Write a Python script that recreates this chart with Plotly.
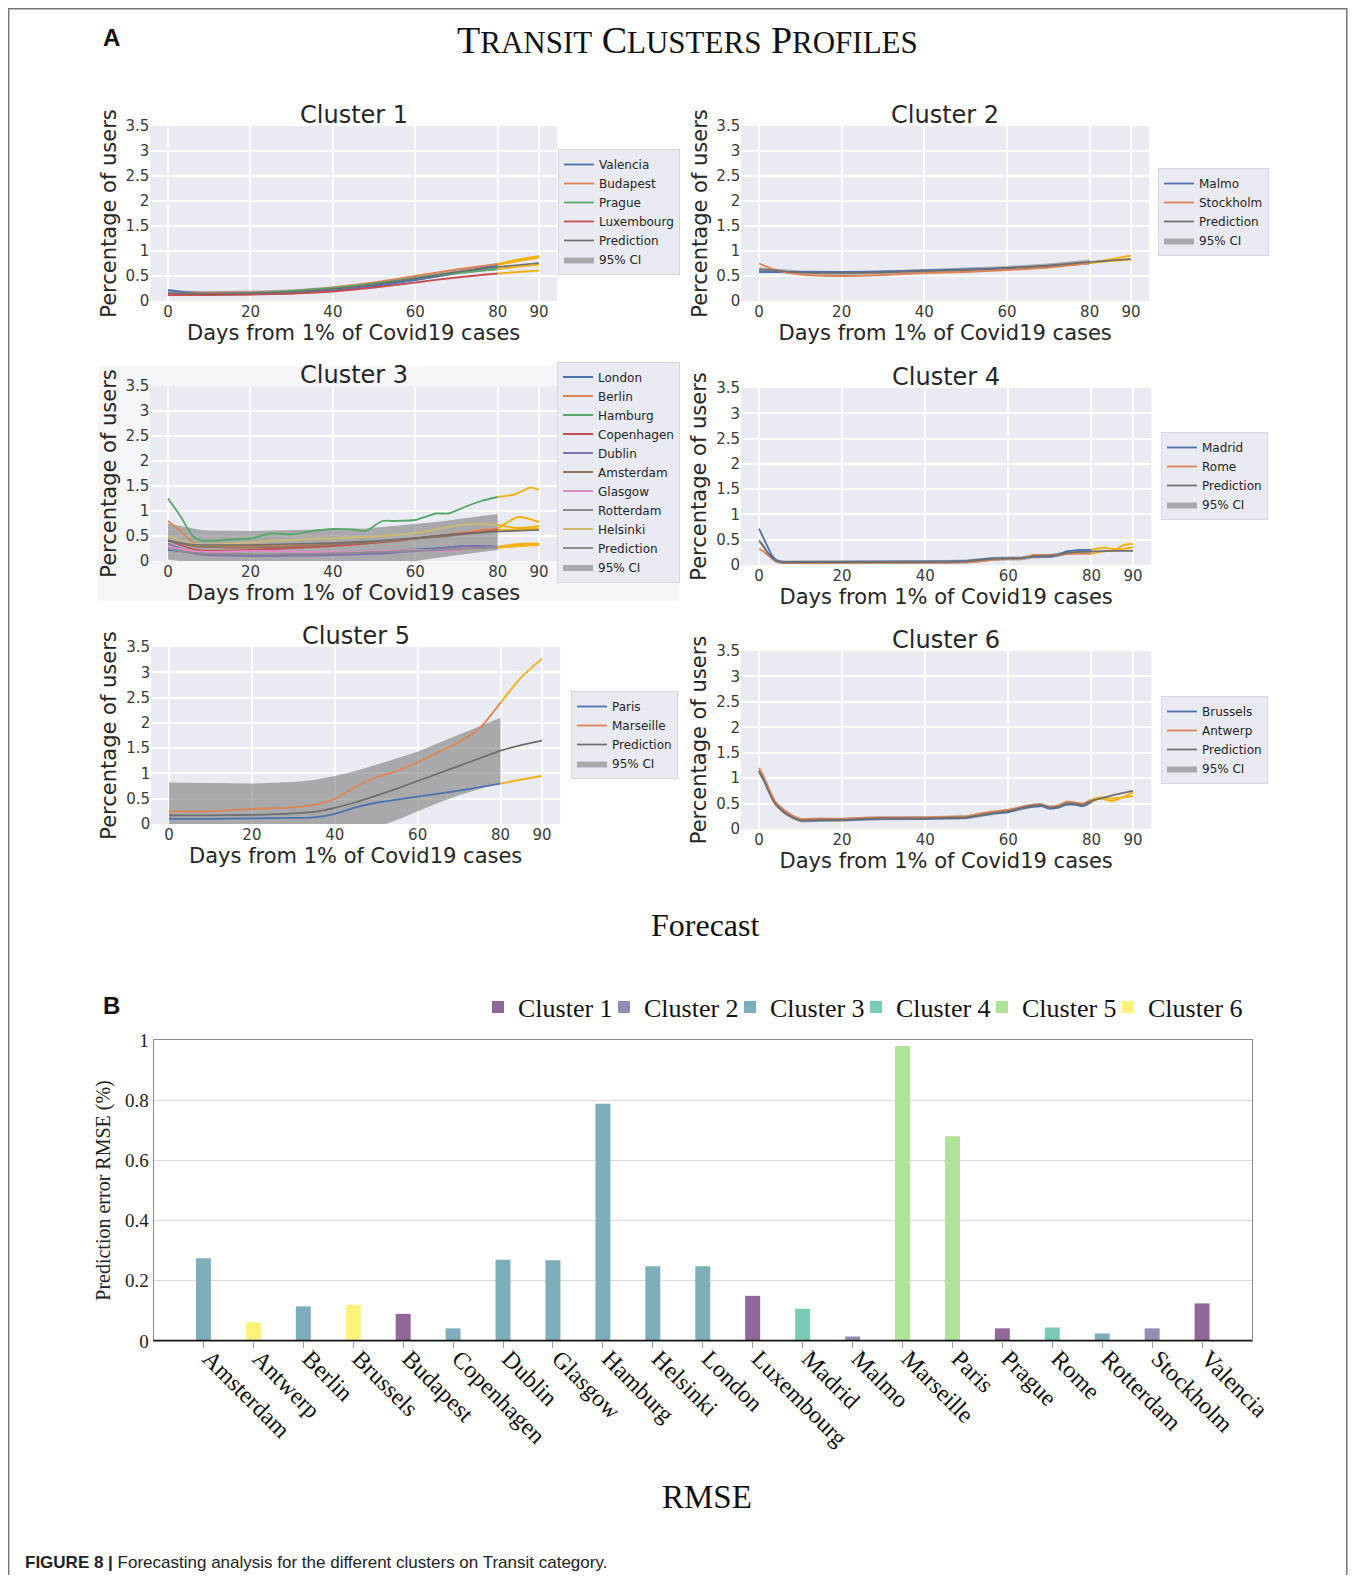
import plotly.graph_objects as go

PAGE_W, PAGE_H = 1356, 1583
OFF = 8  # default body margin of the page
W, H = PAGE_W - 2 * OFF, PAGE_H - 2 * OFF

# ======================= PANEL A DATA =======================
# ---- Cluster 1
c1_days = [0, 5, 10, 20, 30, 40, 50, 60, 70, 80]
c1_valencia = [0.22, 0.17, 0.15, 0.15, 0.16, 0.21, 0.30, 0.42, 0.56, 0.72]
c1_budapest = [0.15, 0.15, 0.16, 0.17, 0.20, 0.27, 0.37, 0.50, 0.63, 0.74]
c1_prague = [0.12, 0.13, 0.14, 0.16, 0.20, 0.26, 0.35, 0.46, 0.56, 0.64]
c1_luxembourg = [0.12, 0.12, 0.12, 0.13, 0.15, 0.19, 0.27, 0.37, 0.47, 0.55]
c1_fc_days = [80, 85, 90]
c1_valencia_fc = [0.72, 0.80, 0.87]
c1_budapest_fc = [0.74, 0.83, 0.90]
c1_prague_fc = [0.64, 0.69, 0.73]
c1_luxembourg_fc = [0.55, 0.58, 0.61]
c1_pred_days = [0, 5, 10, 20, 30, 40, 50, 60, 70, 80, 85, 90]
c1_pred = [0.16, 0.15, 0.15, 0.16, 0.18, 0.24, 0.33, 0.45, 0.58, 0.68, 0.72, 0.76]
c1_ci_low = [0.11, 0.10, 0.10, 0.11, 0.13, 0.19, 0.28, 0.40, 0.53, 0.62]
c1_ci_high = [0.21, 0.20, 0.20, 0.21, 0.23, 0.29, 0.38, 0.50, 0.63, 0.74]

# ---- Cluster 2
c2_days = [0, 3, 5, 10, 20, 30, 40, 50, 60, 70, 80]
c2_malmo = [0.58, 0.58, 0.58, 0.58, 0.58, 0.59, 0.61, 0.63, 0.66, 0.70, 0.76]
c2_stockholm = [0.75, 0.65, 0.60, 0.53, 0.50, 0.52, 0.56, 0.58, 0.62, 0.67, 0.76]
c2_fc_days = [80, 85, 90]
c2_malmo_fc = [0.76, 0.80, 0.83]
c2_stockholm_fc = [0.76, 0.83, 0.91]
c2_pred_days = [0, 3, 5, 10, 20, 30, 40, 50, 60, 70, 80, 85, 90]
c2_pred = [0.63, 0.62, 0.60, 0.57, 0.56, 0.57, 0.60, 0.62, 0.66, 0.71, 0.78, 0.81, 0.84]
c2_ci_low = [0.59, 0.58, 0.56, 0.53, 0.52, 0.53, 0.56, 0.58, 0.62, 0.67, 0.73]
c2_ci_high = [0.67, 0.66, 0.64, 0.61, 0.60, 0.61, 0.64, 0.66, 0.70, 0.75, 0.83]

# ---- Cluster 3
c3_days = [0, 3, 6, 8, 10, 15, 20, 25, 30, 35, 40, 45, 48, 52, 55, 60, 65, 68, 72, 76, 80]
c3_london = [0.22, 0.20, 0.16, 0.15, 0.14, 0.13, 0.12, 0.12, 0.12, 0.12, 0.13, 0.15, 0.16, 0.18, 0.20, 0.23, 0.25, 0.27, 0.30, 0.29, 0.28]
c3_berlin = [0.80, 0.60, 0.38, 0.32, 0.30, 0.30, 0.30, 0.30, 0.31, 0.33, 0.35, 0.37, 0.38, 0.40, 0.42, 0.46, 0.50, 0.53, 0.57, 0.62, 0.65]
c3_hamburg = [1.25, 0.90, 0.50, 0.41, 0.40, 0.43, 0.45, 0.55, 0.53, 0.60, 0.64, 0.63, 0.60, 0.80, 0.80, 0.82, 0.95, 0.95, 1.08, 1.20, 1.28]
c3_copenhagen = [0.42, 0.32, 0.24, 0.21, 0.20, 0.21, 0.22, 0.24, 0.26, 0.28, 0.30, 0.33, 0.35, 0.38, 0.40, 0.45, 0.50, 0.52, 0.55, 0.58, 0.62]
c3_dublin = [0.35, 0.25, 0.16, 0.13, 0.12, 0.11, 0.10, 0.10, 0.11, 0.11, 0.12, 0.13, 0.14, 0.15, 0.17, 0.20, 0.24, 0.27, 0.30, 0.30, 0.28]
c3_amsterdam = [0.42, 0.35, 0.30, 0.28, 0.28, 0.27, 0.27, 0.28, 0.29, 0.31, 0.33, 0.35, 0.37, 0.39, 0.41, 0.45, 0.48, 0.50, 0.54, 0.57, 0.60]
c3_glasgow = [0.30, 0.24, 0.20, 0.19, 0.18, 0.19, 0.20, 0.20, 0.19, 0.18, 0.18, 0.18, 0.19, 0.20, 0.21, 0.22, 0.21, 0.19, 0.24, 0.26, 0.27]
c3_rotterdam = [0.25, 0.20, 0.16, 0.15, 0.14, 0.14, 0.13, 0.13, 0.14, 0.14, 0.15, 0.16, 0.17, 0.18, 0.19, 0.20, 0.22, 0.23, 0.25, 0.26, 0.27]
c3_helsinki = [0.50, 0.42, 0.35, 0.33, 0.33, 0.35, 0.37, 0.40, 0.42, 0.44, 0.45, 0.47, 0.48, 0.50, 0.52, 0.56, 0.63, 0.68, 0.73, 0.74, 0.72]
c3_fc_days = [80, 85, 90]
c3_hamburg_fc_days = [80, 84, 88, 90]
c3_london_fc = [0.28, 0.32, 0.33]
c3_berlin_fc = [0.65, 0.88, 0.78]
c3_hamburg_fc = [1.28, 1.33, 1.47, 1.42]
c3_copenhagen_fc = [0.62, 0.63, 0.65]
c3_dublin_fc = [0.28, 0.34, 0.35]
c3_amsterdam_fc = [0.60, 0.62, 0.63]
c3_glasgow_fc = [0.27, 0.30, 0.33]
c3_rotterdam_fc = [0.27, 0.30, 0.32]
c3_helsinki_fc = [0.72, 0.66, 0.70]
c3_pred_days = [0, 3, 6, 8, 10, 15, 20, 25, 30, 35, 40, 45, 48, 52, 55, 60, 65, 68, 72, 76, 80, 90]
c3_pred = [0.40, 0.36, 0.33, 0.32, 0.32, 0.32, 0.32, 0.33, 0.34, 0.35, 0.36, 0.38, 0.39, 0.41, 0.43, 0.46, 0.50, 0.52, 0.55, 0.57, 0.59, 0.62]
c3_ci_low = [0.03, 0.00, -0.03, -0.04, -0.05, -0.05, -0.05, -0.05, -0.05, -0.05, -0.05, -0.05, -0.05, -0.04, -0.03, 0.00, 0.06, 0.10, 0.14, 0.18, 0.22]
c3_ci_high = [0.75, 0.70, 0.64, 0.62, 0.61, 0.60, 0.60, 0.61, 0.62, 0.62, 0.63, 0.64, 0.65, 0.68, 0.70, 0.74, 0.78, 0.81, 0.86, 0.90, 0.94]

# ---- Cluster 4
c4_days = [0, 1, 2, 3, 4, 5, 6, 8, 10, 20, 30, 40, 45, 50, 53, 56, 60, 63, 66, 70, 72, 74, 77, 80]
c4_madrid = [0.72, 0.55, 0.35, 0.20, 0.10, 0.07, 0.06, 0.06, 0.06, 0.06, 0.06, 0.07, 0.07, 0.08, 0.10, 0.13, 0.13, 0.14, 0.17, 0.16, 0.20, 0.27, 0.30, 0.30]
c4_rome = [0.32, 0.27, 0.20, 0.14, 0.08, 0.05, 0.04, 0.04, 0.04, 0.04, 0.05, 0.05, 0.05, 0.05, 0.07, 0.10, 0.12, 0.13, 0.20, 0.20, 0.20, 0.22, 0.22, 0.22]
c4_fc_days = [80, 83, 86, 88, 90]
c4_madrid_fc = [0.30, 0.34, 0.32, 0.40, 0.42]
c4_rome_fc = [0.22, 0.27, 0.30, 0.32, 0.35]
c4_pred_days = [0, 1, 2, 3, 4, 5, 6, 8, 10, 20, 30, 40, 45, 50, 53, 56, 60, 63, 66, 70, 72, 74, 77, 80, 85, 90]
c4_pred = [0.48, 0.38, 0.25, 0.15, 0.09, 0.06, 0.05, 0.05, 0.05, 0.05, 0.05, 0.06, 0.06, 0.07, 0.09, 0.12, 0.13, 0.13, 0.17, 0.18, 0.20, 0.24, 0.26, 0.27, 0.28, 0.28]
c4_ci_low = [0.44, 0.34, 0.21, 0.11, 0.05, 0.02, 0.01, 0.01, 0.01, 0.01, 0.01, 0.02, 0.02, 0.03, 0.05, 0.08, 0.09, 0.09, 0.13, 0.14, 0.16, 0.20, 0.22, 0.23]
c4_ci_high = [0.52, 0.42, 0.29, 0.19, 0.13, 0.10, 0.09, 0.09, 0.09, 0.09, 0.09, 0.10, 0.10, 0.11, 0.13, 0.16, 0.17, 0.17, 0.21, 0.22, 0.24, 0.28, 0.30, 0.31]

# ---- Cluster 5
c5_days = [0, 10, 20, 30, 35, 40, 45, 50, 55, 60, 65, 70, 75, 80]
c5_paris = [0.10, 0.10, 0.11, 0.12, 0.13, 0.20, 0.33, 0.42, 0.48, 0.54, 0.60, 0.66, 0.73, 0.80]
c5_marseille = [0.25, 0.25, 0.30, 0.33, 0.38, 0.50, 0.73, 0.92, 1.05, 1.22, 1.42, 1.62, 1.90, 2.40]
c5_fc_days = [80, 85, 90]
c5_paris_fc = [0.80, 0.88, 0.95]
c5_marseille_fc = [2.40, 2.90, 3.27]
c5_pred_days = [0, 10, 20, 30, 35, 40, 45, 50, 55, 60, 65, 70, 75, 80, 85, 90]
c5_pred = [0.17, 0.17, 0.18, 0.21, 0.24, 0.32, 0.43, 0.56, 0.70, 0.85, 1.00, 1.15, 1.30, 1.45, 1.56, 1.65]
c5_ci_low = [-0.45, -0.47, -0.45, -0.40, -0.37, -0.30, -0.20, -0.07, 0.08, 0.25, 0.42, 0.57, 0.70, 0.82]
c5_ci_high = [0.82, 0.81, 0.80, 0.83, 0.87, 0.95, 1.05, 1.17, 1.30, 1.43, 1.60, 1.77, 1.93, 2.10]

# ---- Cluster 6
c6_days = [0, 1, 2, 3, 4, 6, 8, 10, 15, 20, 25, 30, 35, 40, 45, 50, 53, 56, 60, 63, 66, 68, 70, 72, 74, 76, 78, 80]
c6_brussels = [1.15, 1.00, 0.82, 0.65, 0.50, 0.35, 0.24, 0.17, 0.17, 0.17, 0.19, 0.20, 0.20, 0.20, 0.21, 0.22, 0.26, 0.30, 0.33, 0.40, 0.44, 0.45, 0.40, 0.42, 0.48, 0.48, 0.45, 0.53]
c6_antwerp = [1.20, 1.05, 0.87, 0.68, 0.53, 0.38, 0.27, 0.20, 0.21, 0.20, 0.22, 0.23, 0.23, 0.23, 0.24, 0.25, 0.30, 0.34, 0.38, 0.43, 0.48, 0.48, 0.43, 0.46, 0.54, 0.52, 0.50, 0.58]
c6_fc_days = [80, 82, 85, 90]
c6_brussels_fc = [0.53, 0.60, 0.55, 0.72]
c6_antwerp_fc = [0.58, 0.62, 0.60, 0.65]
c6_pred_days = [0, 1, 2, 3, 4, 6, 8, 10, 15, 20, 25, 30, 35, 40, 45, 50, 53, 56, 60, 63, 66, 68, 70, 72, 74, 76, 78, 80, 85, 90]
c6_pred = [1.12, 0.98, 0.80, 0.62, 0.48, 0.33, 0.23, 0.17, 0.18, 0.18, 0.20, 0.21, 0.21, 0.21, 0.22, 0.23, 0.27, 0.31, 0.35, 0.41, 0.46, 0.47, 0.42, 0.44, 0.50, 0.50, 0.47, 0.55, 0.66, 0.75]
c6_ci_low = [1.08, 0.94, 0.76, 0.58, 0.44, 0.29, 0.19, 0.13, 0.14, 0.14, 0.16, 0.17, 0.17, 0.17, 0.18, 0.19, 0.23, 0.27, 0.31, 0.37, 0.42, 0.43, 0.38, 0.40, 0.46, 0.46, 0.43, 0.51]
c6_ci_high = [1.16, 1.02, 0.84, 0.66, 0.52, 0.37, 0.27, 0.21, 0.22, 0.22, 0.24, 0.25, 0.25, 0.25, 0.26, 0.27, 0.31, 0.35, 0.39, 0.45, 0.50, 0.51, 0.46, 0.48, 0.54, 0.54, 0.51, 0.59]

x_tick_vals = [0, 20, 40, 60, 80, 90]
y_tick_vals = [0, 0.5, 1, 1.5, 2, 2.5, 3, 3.5]
y_tick_text = ["0", "0.5", "1", "1.5", "2", "2.5", "3", "3.5"]

# ======================= PANEL B DATA =======================
rmse_cities = ["Amsterdam", "Antwerp", "Berlin", "Brussels", "Budapest", "Copenhagen", "Dublin",
               "Glasgow", "Hamburg", "Helsinki", "London", "Luxembourg", "Madrid", "Malmo",
               "Marseille", "Paris", "Prague", "Rome", "Rotterdam", "Stockholm", "Valencia"]
rmse_values = [0.275, 0.062, 0.115, 0.120, 0.090, 0.042, 0.270, 0.268, 0.788, 0.248, 0.248,
               0.150, 0.107, 0.015, 0.980, 0.680, 0.042, 0.045, 0.025, 0.042, 0.125]
rmse_cluster = [3, 6, 3, 6, 1, 3, 3, 3, 3, 3, 3, 1, 4, 2, 5, 5, 1, 4, 3, 2, 1]
bar_tick_vals = [0, 0.2, 0.4, 0.6, 0.8, 1]
bar_tick_text = ["0", "0.2", "0.4", "0.6", "0.8", "1"]

# ======================= STYLE =======================
DEEP = ["#4C72B0", "#DD8452", "#55A868", "#C44E52", "#8172B3", "#937860", "#DA8BC3", "#8C8C8C", "#CCB974"]
FC_COLOR = "#F2B215"
PRED_COLOR = "#6E6E6E"
CI_FILL = "rgba(125,125,125,0.6)"
BAR_COLORS = {1: "rgb(143,103,152)", 2: "rgb(141,143,183)", 3: "rgb(127,174,187)",
              4: "rgb(122,203,181)", 5: "rgb(175,227,151)", 6: "rgb(254,241,124)"}

# page-pixel geometry: (x of day 0, x of day 90, y of value 0, y of value 3.5)
panel_geom = {1: (168, 539, 301, 126), 2: (759, 1131, 301, 126),
              3: (168, 539, 561, 386), 4: (759, 1133, 565, 388),
              5: (169, 542, 824, 647), 6: (759, 1133, 829, 651)}
legend_pos = {1: (558, 212), 2: (1158, 212), 3: (557, 472),
              4: (1161, 476), 5: (571, 735), 6: (1161, 740)}


def px(x):
    return (x - OFF) / W


def py(y):
    return 1 - (y - OFF) / H


panels = {
    1: dict(days=c1_days, fc_days=c1_fc_days,
            cities=[("Valencia", c1_valencia, c1_valencia_fc), ("Budapest", c1_budapest, c1_budapest_fc),
                    ("Prague", c1_prague, c1_prague_fc), ("Luxembourg", c1_luxembourg, c1_luxembourg_fc)],
            pred_days=c1_pred_days, pred=c1_pred, lo=c1_ci_low, hi=c1_ci_high, shape="spline"),
    2: dict(days=c2_days, fc_days=c2_fc_days,
            cities=[("Malmo", c2_malmo, c2_malmo_fc), ("Stockholm", c2_stockholm, c2_stockholm_fc)],
            pred_days=c2_pred_days, pred=c2_pred, lo=c2_ci_low, hi=c2_ci_high, shape="spline"),
    3: dict(days=c3_days, fc_days=c3_fc_days,
            cities=[("London", c3_london, c3_london_fc), ("Berlin", c3_berlin, c3_berlin_fc),
                    ("Hamburg", c3_hamburg, c3_hamburg_fc), ("Copenhagen", c3_copenhagen, c3_copenhagen_fc),
                    ("Dublin", c3_dublin, c3_dublin_fc), ("Amsterdam", c3_amsterdam, c3_amsterdam_fc),
                    ("Glasgow", c3_glasgow, c3_glasgow_fc), ("Rotterdam", c3_rotterdam, c3_rotterdam_fc),
                    ("Helsinki", c3_helsinki, c3_helsinki_fc)],
            pred_days=c3_pred_days, pred=c3_pred, lo=c3_ci_low, hi=c3_ci_high, shape="spline"),
    4: dict(days=c4_days, fc_days=c4_fc_days,
            cities=[("Madrid", c4_madrid, c4_madrid_fc), ("Rome", c4_rome, c4_rome_fc)],
            pred_days=c4_pred_days, pred=c4_pred, lo=c4_ci_low, hi=c4_ci_high, shape="linear"),
    5: dict(days=c5_days, fc_days=c5_fc_days,
            cities=[("Paris", c5_paris, c5_paris_fc), ("Marseille", c5_marseille, c5_marseille_fc)],
            pred_days=c5_pred_days, pred=c5_pred, lo=c5_ci_low, hi=c5_ci_high, shape="spline"),
    6: dict(days=c6_days, fc_days=c6_fc_days,
            cities=[("Brussels", c6_brussels, c6_brussels_fc), ("Antwerp", c6_antwerp, c6_antwerp_fc)],
            pred_days=c6_pred_days, pred=c6_pred, lo=c6_ci_low, hi=c6_ci_high, shape="spline"),
}

fig = go.Figure()
layout = dict(width=W, height=H, margin=dict(l=0, r=0, t=0, b=0, pad=0, autoexpand=False),
              paper_bgcolor="white", plot_bgcolor="rgba(0,0,0,0)",
              showlegend=True, barmode="overlay", hovermode=False)
shapes = []
annotations = []

# light box behind cluster 3 panel
shapes.append(dict(type="rect", xref="paper", yref="paper", x0=px(98), x1=px(679), y0=py(601), y1=py(366),
                   fillcolor="#F6F6F8", line=dict(width=0), layer="below"))

SANS = "DejaVu Sans"
SERIF = "Liberation Serif"
XLO, XHI = -4.3, 94.4

for i, p in panels.items():
    sfx = "" if i == 1 else str(i)
    xa, ya = "x" + sfx, "y" + sfx
    leg = "legend" if i == 1 else "legend%d" % i
    x0, x90, y0, y35 = panel_geom[i]
    ppd = (x90 - x0) / 90.0
    dom_x = [px(x0 + XLO * ppd), px(x0 + XHI * ppd)]
    dom_y = [py(y0), py(y35)]

    layout["xaxis" + sfx] = dict(domain=dom_x, range=[XLO, XHI], anchor=ya, tickvals=x_tick_vals,
                                 ticktext=[str(v) for v in x_tick_vals], showgrid=True, gridcolor="white",
                                 gridwidth=1.5, zeroline=False, showline=False, ticks="", automargin=False,
                                 tickfont=dict(family=SANS, size=15, color="#3a3a3a"),
                                 title=dict(text="Days from 1% of Covid19 cases", standoff=1,
                                            font=dict(family=SANS, size=21, color="#262626")))
    layout["yaxis" + sfx] = dict(domain=dom_y, range=[0, 3.5], anchor=xa, tickvals=y_tick_vals,
                                 ticktext=y_tick_text, showgrid=True, gridcolor="white", gridwidth=1.5,
                                 zeroline=False, showline=False, ticks="", automargin=False,
                                 tickfont=dict(family=SANS, size=15, color="#3a3a3a"),
                                 title=dict(text="Percentage of users", standoff=3,
                                            font=dict(family=SANS, size=21, color="#262626")))
    shapes.append(dict(type="rect", xref=xa + " domain", yref=ya + " domain", x0=0, x1=1, y0=0, y1=1,
                       fillcolor="#EAEAF2", line=dict(width=0), layer="below"))
    annotations.append(dict(text="Cluster %d" % i, x=(dom_x[0] + dom_x[1]) / 2, y=dom_y[1],
                            xref="paper", yref="paper", xanchor="center", yanchor="bottom", yshift=-5,
                            showarrow=False, font=dict(family=SANS, size=24, color="#262626")))

    n = len(p["cities"])
    fig.add_trace(go.Scatter(x=p["days"] + p["days"][::-1], y=p["hi"] + p["lo"][::-1],
                             fill="toself", fillcolor=CI_FILL, line=dict(width=0), mode="lines",
                             name="95% CI", legend=leg, legendrank=n + 2, xaxis=xa, yaxis=ya))
    for k, (name, vals, fc) in enumerate(p["cities"]):
        fig.add_trace(go.Scatter(x=p["days"], y=vals, mode="lines", name=name,
                                 line=dict(color=DEEP[k], width=1.8, shape=p["shape"], smoothing=0.7),
                                 legend=leg, legendrank=k + 1, xaxis=xa, yaxis=ya))
    for k, (name, vals, fc) in enumerate(p["cities"]):
        fdays = c3_hamburg_fc_days if (i == 3 and name == "Hamburg") else p["fc_days"]
        fig.add_trace(go.Scatter(x=fdays, y=fc, mode="lines", showlegend=False,
                                 line=dict(color=FC_COLOR, width=1.9, shape="spline", smoothing=0.7),
                                 legend=leg, xaxis=xa, yaxis=ya))
    fig.add_trace(go.Scatter(x=p["pred_days"], y=p["pred"], mode="lines", name="Prediction",
                             line=dict(color=PRED_COLOR, width=1.7, shape=p["shape"], smoothing=0.7),
                             legend=leg, legendrank=n + 1, xaxis=xa, yaxis=ya))

    lx, ly = legend_pos[i]
    layout[leg] = dict(x=px(lx), y=py(ly), xanchor="left", yanchor="middle", bgcolor="#EAEAF2",
                       bordercolor="#D6D6DE", borderwidth=1, itemwidth=30, tracegroupgap=0,
                       font=dict(family=SANS, size=12, color="#262626"))

# ======================= PANEL B =======================
for c in range(1, 7):
    xs = [city for city, cl in zip(rmse_cities, rmse_cluster) if cl == c]
    ys = [v for v, cl in zip(rmse_values, rmse_cluster) if cl == c]
    fig.add_trace(go.Bar(x=xs, y=ys, name="Cluster %d" % c, width=0.3,
                         marker=dict(color=BAR_COLORS[c], line=dict(width=0)),
                         legendwidth=(110 if c == 6 else None),
                         legend="legend7", xaxis="x7", yaxis="y7"))

layout["xaxis7"] = dict(domain=[px(153.5), px(1252)], anchor="y7", type="category",
                        categoryorder="array", categoryarray=rmse_cities, range=[-1, 21],
                        tickangle=45, ticks="outside", ticklen=6, tickcolor="#999",
                        ticklabelshift=6, ticklabelstandoff=-13, automargin=False,
                        showline=True, mirror=True, linecolor="#8a8a8a", linewidth=1,
                        showgrid=False, tickfont=dict(family=SERIF, size=24, color="#111"))
layout["yaxis7"] = dict(domain=[py(1341), py(1040)], anchor="x7", range=[0, 1],
                        tickvals=bar_tick_vals, ticktext=bar_tick_text, ticks="", automargin=False,
                        showline=True, mirror=True, linecolor="#8a8a8a", linewidth=1,
                        showgrid=True, gridcolor="#d9d9d9", gridwidth=1, zeroline=False,
                        tickfont=dict(family=SERIF, size=19, color="#222"),
                        title=dict(text="Prediction error RMSE (%)", standoff=8,
                                   font=dict(family=SERIF, size=20, color="#222")))
layout["legend7"] = dict(orientation="h", x=px(478), y=py(1007), xanchor="left", yanchor="middle",
                         bgcolor="rgba(0,0,0,0)", itemwidth=30, traceorder="normal",
                         entrywidth=81, entrywidthmode="pixels",
                         font=dict(family=SERIF, size=26, color="#111"))
shapes.append(dict(type="line", xref="x7 domain", yref="y7", x0=0, x1=1, y0=0, y1=0,
                   line=dict(color="#111", width=2.5), layer="above"))

# page frame (left, top, right)
shapes.append(dict(type="path", xref="paper", yref="paper",
                   path="M %f %f L %f %f L %f %f L %f %f" % (0.7 / W, -0.05, 0.7 / W, 1 - 0.7 / H,
                                                            1 - 1.2 / W, 1 - 0.7 / H, 1 - 1.2 / W, -0.05),
                   line=dict(color="#777", width=1.5), layer="above"))

# ======================= TEXT =======================
title_html = ("T<span style='font-size:31px'>RANSIT</span> C<span style='font-size:31px'>LUSTERS</span> "
              "P<span style='font-size:31px'>ROFILES</span>")
annotations += [
    dict(text="<b>A</b>", x=px(111), y=py(37), font=dict(family="Liberation Sans", size=24, color="#111")),
    dict(text=title_html, x=px(687), y=py(40), font=dict(family=SERIF, size=38, color="#111")),
    dict(text="Forecast", x=px(705), y=py(925), font=dict(family=SERIF, size=32, color="#111")),
    dict(text="<b>B</b>", x=px(111), y=py(1005), font=dict(family="Liberation Sans", size=24, color="#111")),
    dict(text="RMSE", x=px(707), y=py(1497), font=dict(family=SERIF, size=33, color="#111")),
]
for a in annotations[-5:]:
    a.update(xref="paper", yref="paper", xanchor="center", yanchor="middle", showarrow=False)
annotations.append(dict(text="<b>FIGURE 8 |</b> Forecasting analysis for the different clusters on Transit category.",
                        x=px(24), y=py(1562), xref="paper", yref="paper", xanchor="left", yanchor="middle",
                        borderpad=0, showarrow=False, font=dict(family="Liberation Sans", size=17, color="#222")))

layout["shapes"] = shapes
layout["annotations"] = annotations
fig.update_layout(**layout)

fig.write_html("out.html", config={"displayModeBar": False})
